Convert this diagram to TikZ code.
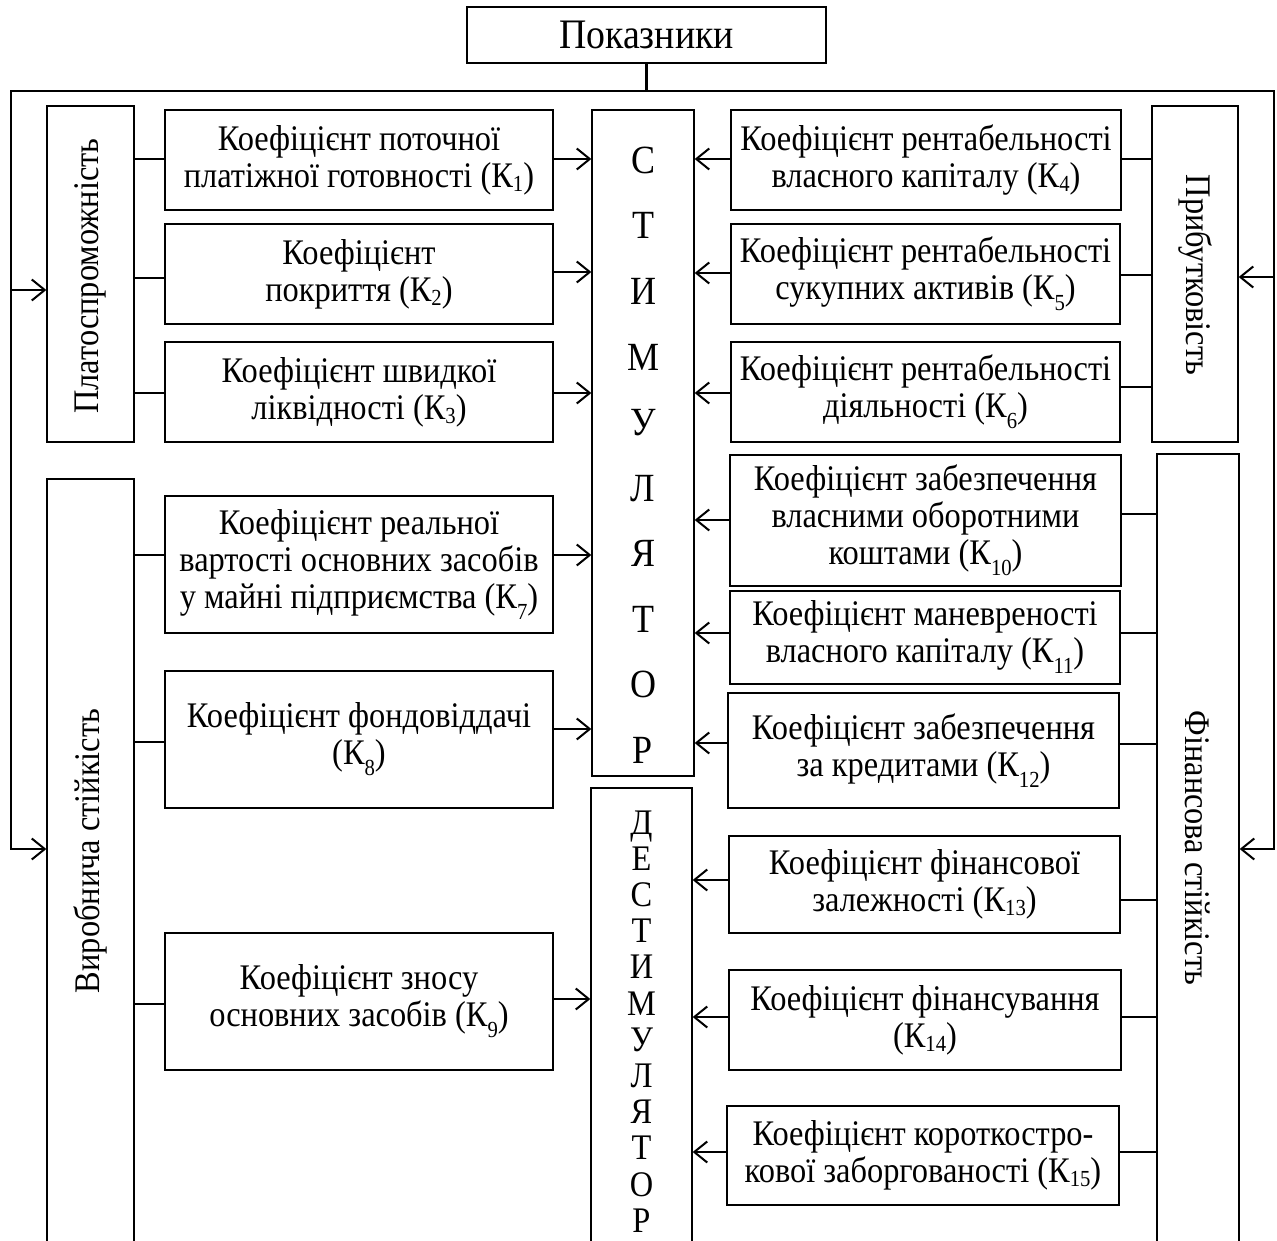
\documentclass[tikz,border=0pt]{standalone}
\usepackage{fontspec}
\setmainfont{Liberation Serif}[FakeStretch=0.9]
\usetikzlibrary{arrows.meta}
\newcommand{\subA}[1]{\raisebox{-4pt}{\fontsize{23}{23}\selectfont #1}}
\newcommand{\subB}[1]{\raisebox{-11pt}{\fontsize{23}{23}\selectfont #1}}
\begin{document}
\begin{tikzpicture}[x=1pt,y=-1pt,
  box/.style={draw, line width=1.3pt, inner sep=0pt, align=center, font=\fontsize{36}{37}\selectfont},
  lbl/.style={inner sep=0pt, font=\fontsize{36}{37}\selectfont},
  conn/.style={line width=2pt},
  arr/.style={line width=2pt, -{Straight Barb[length=13pt,width=21pt,line width=2pt]}},
  trunk/.style={line width=2.2pt},
  trunkarr/.style={line width=2.2pt, -{Straight Barb[length=13pt,width=21pt,line width=2pt]}},
  sletter/.style={inner sep=0pt, text height=27pt, text depth=0pt, font=\fontsize{40}{40}\selectfont},
  dletter/.style={inner sep=0pt, text height=24pt, text depth=0pt, font=\fontsize{36}{36}\selectfont}]
\clip (0,0) rectangle (1277,1241);
\fill[white] (0,0) rectangle (1277,1241);

% top
\node[box, minimum width=359pt, minimum height=56pt, font=\fontsize{42}{44}\selectfont] (ptop) at (646.5,35) {Показники};

% side boxes
\node[box, minimum width=87pt, minimum height=336pt] (plat) at (90.5,274) {};
\node[lbl, rotate=90] (plattext) at (90,276) {Платоспроможність};
\node[box, minimum width=87pt, minimum height=821pt] (vyr) at (90.5,889.5) {};
\node[lbl, rotate=90] (vyrtext) at (90,851) {Виробнича стійкість};
\node[box, minimum width=86pt, minimum height=336pt] (prib) at (1195,274) {};
\node[lbl, rotate=-90] (pribtext) at (1195,275) {Прибутковість};
\node[box, minimum width=82pt, minimum height=846pt] (fin) at (1198,877) {};
\node[lbl, rotate=-90] (fintext) at (1198,848) {Фінансова стійкість};

% stimulator / destimulator
\node[box, minimum width=102pt, minimum height=666pt] (stim) at (643,443) {};
\foreach \l [count=\i from 0] in {С,Т,И,М,У,Л,Я,Т,О,Р}
  \node[sletter] (s\i) at (643,160+65.5*\i) {\l};
\node[box, minimum width=101pt, minimum height=512pt] (dest) at (641.5,1044) {};
\foreach \l [count=\i from 0] in {Д,Е,С,Т,И,М,У,Л,Я,Т,О,Р}
  \node[dletter] (d\i) at (641.5,822+36.2*\i) {\l};

% left column
\node[box, minimum width=388pt, minimum height=100pt] (k1) at (359,160) {Коефіцієнт поточної\\платіжної готовності (К\subA{1})};
\node[box, minimum width=388pt, minimum height=100pt] (k2) at (359,274) {Коефіцієнт\\покриття (К\subA{2})};
\node[box, minimum width=388pt, minimum height=100pt] (k3) at (359,392) {Коефіцієнт швидкої\\ліквідності (К\subA{3})};
\node[box, minimum width=388pt, minimum height=137pt] (k7) at (359,564.5) {Коефіцієнт реальної\\вартості основних засобів\\у майні підприємства (К\subB{7})};
\node[box, minimum width=388pt, minimum height=137pt] (k8) at (359,739.5) {Коефіцієнт фондовіддачі\\(К\subB{8})};
\node[box, minimum width=388pt, minimum height=137pt] (k9) at (359,1001.5) {Коефіцієнт зносу\\основних засобів (К\subB{9})};

% right column
\node[box, minimum width=390pt, minimum height=100pt] (k4) at (926,160) {Коефіцієнт рентабельності\\власного капіталу (К\subA{4})};
\node[box, minimum width=389pt, minimum height=100pt] (k5) at (925.5,274) {Коефіцієнт рентабельності\\сукупних активів (К\subB{5})};
\node[box, minimum width=389pt, minimum height=100pt] (k6) at (925.5,392) {Коефіцієнт рентабельності\\діяльності (К\subB{6})};
\node[box, minimum width=391pt, minimum height=131pt] (k10) at (925.5,520.5) {Коефіцієнт забезпечення\\власними оборотними\\коштами (К\subB{10})};
\node[box, minimum width=390pt, minimum height=93pt] (k11) at (925,637.5) {Коефіцієнт маневреності\\власного капіталу (К\subB{11})};
\node[box, minimum width=391pt, minimum height=115pt] (k12) at (923.5,750.5) {Коефіцієнт забезпечення\\за кредитами (К\subB{12})};
\node[box, minimum width=391pt, minimum height=97pt] (k13) at (924.5,884.5) {Коефіцієнт фінансової\\залежності (К\subA{13})};
\node[box, minimum width=392pt, minimum height=100pt] (k14) at (925,1020) {Коефіцієнт фінансування\\(К\subA{14})};
\node[box, minimum width=392pt, minimum height=99pt] (k15) at (923,1155.5) {Коефіцієнт короткостро-\\кової заборгованості (К\subA{15})};

% trunk
\coordinate (tl) at (11,91);
\coordinate (tr) at (1274,91);
\draw[trunk] (ptop.south) -- (ptop.south|-tl);
\draw[trunk, line cap=rect] (tl) -- (tr);
\draw[trunkarr] (tl) |- (vyr.west|-0,849);
\draw[trunkarr] (tl|-0,290) -- (plat.west|-0,290);
\draw[trunkarr] (tr) |- (fin.east|-0,849);
\draw[trunkarr] (tr|-0,277) -- (prib.east|-0,277);

% left connectors
\draw[conn] (plat.east|-0,159) -- (k1.west|-0,159);
\draw[conn] (plat.east|-0,278) -- (k2.west|-0,278);
\draw[conn] (plat.east|-0,393) -- (k3.west|-0,393);
\draw[conn] (vyr.east|-0,555) -- (k7.west|-0,555);
\draw[conn] (vyr.east|-0,742) -- (k8.west|-0,742);
\draw[conn] (vyr.east|-0,1004) -- (k9.west|-0,1004);

% left arrows
\draw[arr] (k1.east|-0,159) -- (stim.west|-0,159);
\draw[arr] (k2.east|-0,272) -- (stim.west|-0,272);
\draw[arr] (k3.east|-0,393) -- (stim.west|-0,393);
\draw[arr] (k7.east|-0,555) -- (stim.west|-0,555);
\draw[arr] (k8.east|-0,729) -- (stim.west|-0,729);
\draw[arr] (k9.east|-0,999) -- (dest.west|-0,999);

% right arrows
\draw[arr] (k4.west|-0,159) -- (stim.east|-0,159);
\draw[arr] (k5.west|-0,273) -- (stim.east|-0,273);
\draw[arr] (k6.west|-0,393) -- (stim.east|-0,393);
\draw[arr] (k10.west|-0,520) -- (stim.east|-0,520);
\draw[arr] (k11.west|-0,633) -- (stim.east|-0,633);
\draw[arr] (k12.west|-0,743) -- (stim.east|-0,743);
\draw[arr] (k13.west|-0,880) -- (dest.east|-0,880);
\draw[arr] (k14.west|-0,1017) -- (dest.east|-0,1017);
\draw[arr] (k15.west|-0,1152) -- (dest.east|-0,1152);

% right connectors
\draw[conn] (k4.east|-0,159) -- (prib.west|-0,159);
\draw[conn] (k5.east|-0,275) -- (prib.west|-0,275);
\draw[conn] (k6.east|-0,387) -- (prib.west|-0,387);
\draw[conn] (k10.east|-0,514) -- (fin.west|-0,514);
\draw[conn] (k11.east|-0,633) -- (fin.west|-0,633);
\draw[conn] (k12.east|-0,744) -- (fin.west|-0,744);
\draw[conn] (k13.east|-0,900) -- (fin.west|-0,900);
\draw[conn] (k14.east|-0,1017) -- (fin.west|-0,1017);
\draw[conn] (k15.east|-0,1152) -- (fin.west|-0,1152);
\end{tikzpicture}
\end{document}
